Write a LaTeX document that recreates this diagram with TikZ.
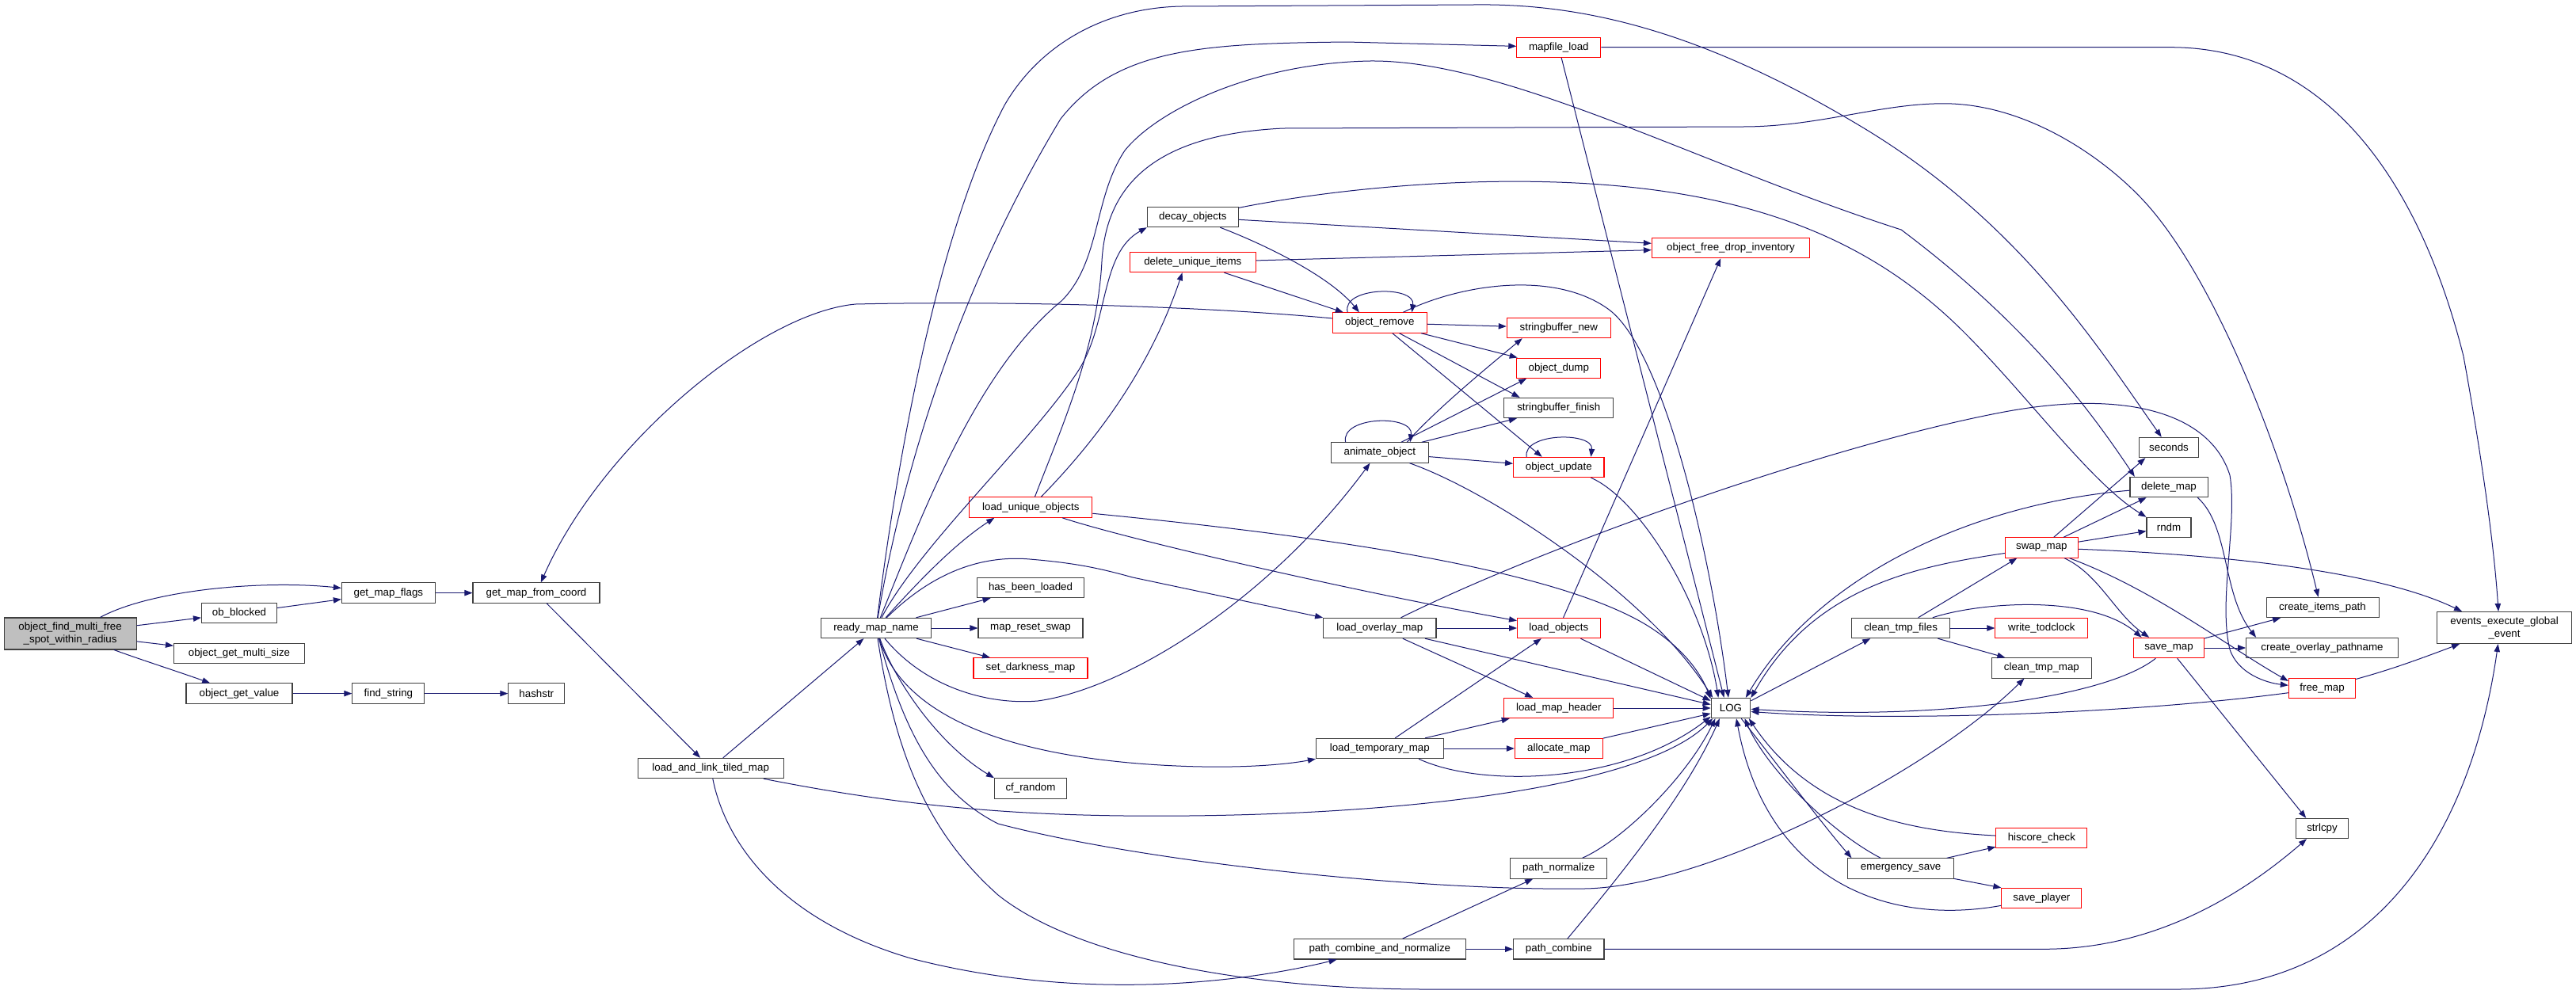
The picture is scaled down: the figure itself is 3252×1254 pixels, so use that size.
\documentclass[tikz,border=0pt]{standalone}
\usepackage{fontspec}
\setmainfont{Liberation Sans}
\usetikzlibrary{arrows.meta}
\definecolor{edgec}{HTML}{191970}
\definecolor{nodeb}{HTML}{404040}
\definecolor{rootf}{HTML}{BFBFBF}
\definecolor{nred}{HTML}{FF0000}
\tikzset{
  cedge/.style={draw=edgec, line width=0.75pt, -{Triangle[length=7.5pt,width=5.5pt]}},
  nb/.style={draw=nodeb, fill=white, line width=0.8pt, inner sep=0pt, minimum height=19pt, font=\fontsize{10pt}{12pt}\selectfont, text=black},
  nr/.style={nb, draw=nred},
  mw/.style={minimum width=#1*0.75pt}
}
\begin{document}
\begin{tikzpicture}[x=0.75pt, y=-0.75pt]
\fill[white] (0,0) rectangle (3252,1254);
\useasboundingbox (0,0) rectangle (3252,1254);
% nodes
\node[nb, fill=rootf, mw=167, minimum height=30pt, align=center] (n0) at (88.6,800) {object\_find\_multi\_free\\\_spot\_within\_radius};
\node[nb, mw=95] (obb) at (302,774) {ob\_blocked};
\node[nb, mw=165] (ogms) at (302,825) {object\_get\_multi\_size};
\node[nb, mw=134] (ogv) at (302,875.6) {object\_get\_value};
\node[nb, mw=118] (gmf) at (490.4,748.6) {get\_map\_flags};
\node[nb, mw=91] (fs) at (490.4,875.6) {find\_string};
\node[nb, mw=160] (gmfc) at (677,748.6) {get\_map\_from\_coord};
\node[nb, mw=71] (hs) at (677.3,875.6) {hashstr};
\node[nb, mw=184] (lal) at (897.2,970) {load\_and\_link\_tiled\_map};
\node[nb, mw=139] (rmn) at (1106,793) {ready\_map\_name};
\node[nr, mw=155] (luo) at (1301.3,640.6) {load\_unique\_objects};
\node[nb, mw=135] (hbl) at (1301,742) {has\_been\_loaded};
\node[nb, mw=132] (mrs) at (1301,793) {map\_reset\_swap};
\node[nr, mw=144] (sdm) at (1301,843.4) {set\_darkness\_map};
\node[nb, mw=91] (cfr) at (1301,995.4) {cf\_random};
\node[nb, mw=115] (dco) at (1505.8,274) {decay\_objects};
\node[nr, mw=158.5] (dui) at (1505.8,331) {delete\_unique\_items};
\node[nr, mw=118.5] (orm) at (1741.8,407.5) {object\_remove};
\node[nb, mw=123] (ano) at (1741.8,571.5) {animate\_object};
\node[nb, mw=142.4] (lom) at (1741.8,793) {load\_overlay\_map};
\node[nb, mw=160.7] (ltm) at (1741.8,945) {load\_temporary\_map};
\node[nb, mw=216.7] (pcn) at (1741.8,1198.3) {path\_combine\_and\_normalize};
\node[nr, mw=106] (mfl) at (1967.8,59.7) {mapfile\_load};
\node[nr, mw=131] (sbn) at (1967.8,414) {stringbuffer\_new};
\node[nr, mw=106] (odp) at (1967.8,464.7) {object\_dump};
\node[nb, mw=138] (sbf) at (1967.8,515) {stringbuffer\_finish};
\node[nr, mw=114.4] (oup) at (1967.8,590) {object\_update};
\node[nr, mw=104.5] (lob) at (1967.8,793) {load\_objects};
\node[nr, mw=138] (lmh) at (1967.8,894) {load\_map\_header};
\node[nr, mw=110.8] (alm) at (1967.8,945) {allocate\_map};
\node[nb, mw=122] (pnz) at (1967.8,1096.5) {path\_normalize};
\node[nb, mw=114.4] (pcb) at (1967.8,1198.3) {path\_combine};
\node[nr, mw=199.3] (ofd) at (2185,313) {object\_free\_drop\_inventory};
\node[nb, mw=49.8] (log) at (2185,894) {LOG};
\node[nb, mw=124] (ctf) at (2399.6,793) {clean\_tmp\_files};
\node[nb, mw=133.4] (ems) at (2399.6,1096.5) {emergency\_save};
\node[nr, mw=92] (swm) at (2577.4,691.5) {swap\_map};
\node[nr, mw=117] (wtc) at (2577.4,793) {write\_todclock};
\node[nb, mw=126.5] (ctm) at (2577.4,843.4) {clean\_tmp\_map};
\node[nr, mw=115] (hsc) at (2577.4,1058) {hiscore\_check};
\node[nr, mw=101] (spl) at (2577.4,1134) {save\_player};
\node[nb, mw=74.4] (sec) at (2738,565) {seconds};
\node[nb, mw=98] (dlm) at (2738,615) {delete\_map};
\node[nb, mw=56] (rnd) at (2738,666) {rndm};
\node[nr, mw=88.8] (svm) at (2738,818) {save\_map};
\node[nb, mw=142] (cip) at (2932,767) {create\_items\_path};
\node[nb, mw=191.7] (cop) at (2931.5,818) {create\_overlay\_pathname};
\node[nr, mw=84.3] (frm) at (2931.5,869) {free\_map};
\node[nb, mw=66] (slc) at (2931.5,1046) {strlcpy};
\node[nb, mw=170, minimum height=30pt, align=center] (eeg) at (3161.5,792.5) {events\_execute\_global\\\_event};
% root edges
\draw[cedge] (n0) .. controls (190,745) and (330,732) .. (gmf);
\draw[cedge] (n0) -- (obb);
\draw[cedge] (n0) -- (ogms);
\draw[cedge] (n0) .. controls (175,832) and (225,848) .. (ogv);
\draw[cedge] (obb) -- (gmf);
\draw[cedge] (gmf) -- (gmfc);
\draw[cedge] (ogv) -- (fs);
\draw[cedge] (fs) -- (hs);
\draw[cedge] (gmfc) -- (lal);
\draw[cedge] (orm) .. controls (1500,385) and (1250,380) .. (1080,384) .. controls (960,395) and (760,560) .. (gmfc);
% load_and_link_tiled_map
\draw[cedge] (lal) -- (rmn);
\draw[cedge] (lal) .. controls (1150,1020) and (1300,1032) .. (1500,1030) .. controls (1800,1027) and (2080,990) .. (log.210);
\draw[cedge] (lal) .. controls (915,1060) and (980,1160) .. (1150,1210) .. controls (1350,1262) and (1550,1245) .. (pcn);
% ready_map_name
\draw[cedge] (rmn) .. controls (1130,600) and (1180,300) .. (1268,133) .. controls (1310,60) and (1390,10) .. (1491,8) -- (1860,6) .. controls (2000,4) and (2150,40) .. (2350,160) .. controls (2550,280) and (2650,440) .. (sec);
\draw[cedge] (rmn) .. controls (1135,620) and (1200,380) .. (1339,150) .. controls (1410,60) and (1520,55) .. (1700,53) -- (mfl);
\draw[cedge] (rmn) .. controls (1160,660) and (1230,470) .. (1340,380) .. controls (1390,330) and (1380,250) .. (1420,190) .. controls (1460,140) and (1580,80) .. (1729,77) .. controls (1900,75) and (2150,210) .. (2400,290) .. controls (2560,410) and (2640,520) .. (dlm.163);
\draw[cedge] (rmn) .. controls (1160,690) and (1300,560) .. (1360,470) .. controls (1400,410) and (1388,320) .. (dco.south west);
\draw[cedge] (rmn) .. controls (1150,745) and (1200,690) .. (luo.196);
\draw[cedge] (rmn) .. controls (1170,730) and (1230,700) .. (1300,706) .. controls (1360,711) and (1390,718) .. (1430,729) -- (lom.north west);
\draw[cedge] (rmn) -- (hbl);
\draw[cedge] (rmn) -- (mrs);
\draw[cedge] (rmn) -- (sdm);
\draw[cedge] (rmn) .. controls (1130,860) and (1185,940) .. (cfr.north west);
\draw[cedge] (rmn) .. controls (1135,890) and (1240,950) .. (1450,965) .. controls (1550,972) and (1620,966) .. (ltm.south west);
\draw[cedge] (rmn) .. controls (1170,870) and (1250,890) .. (1310,885) .. controls (1420,870) and (1600,760) .. (ano.227);
\draw[cedge] (rmn) .. controls (1140,920) and (1180,1000) .. (1260,1040) .. controls (1450,1090) and (1800,1125) .. (2000,1122) .. controls (2150,1120) and (2430,980) .. (ctm.211);
\draw[cedge] (rmn) .. controls (1130,950) and (1170,1050) .. (1260,1130) .. controls (1360,1210) and (1580,1249) .. (1800,1249) -- (2750,1249) .. controls (3000,1249) and (3120,1050) .. (eeg.249);
% load_unique_objects
\draw[cedge] (luo) .. controls (1340,540) and (1385,440) .. (1391,330) .. controls (1396,240) and (1450,170) .. (1620,162) -- (2200,160) .. controls (2300,160) and (2380,128) .. (2464,131) .. controls (2560,135) and (2650,195) .. (2702,249) .. controls (2790,340) and (2880,560) .. (cip.112);
\draw[cedge] (luo) .. controls (1380,560) and (1450,470) .. (dui.225);
\draw[cedge] (luo) .. controls (1420,680) and (1700,745) .. (lob.170);
\draw[cedge] (luo) .. controls (1600,670) and (1950,710) .. (2080,790) .. controls (2120,815) and (2145,845) .. (log.155);
% decay / delete_unique
\draw[cedge] (dco) -- (ofd);
\draw[cedge] (dui) -- (ofd);
\draw[cedge] (dco) .. controls (1600,310) and (1680,350) .. (orm.153);
\draw[cedge] (dui) -- (orm.164);
\draw[cedge] (dco) .. controls (1700,235) and (1950,210) .. (2150,250) .. controls (2300,280) and (2400,340) .. (2480,420) .. controls (2560,500) and (2640,610) .. (rnd.north west);
% object_remove
\draw[cedge] (orm.162) .. controls (1693,362) and (1787,360) .. (orm.18);
\draw[cedge] (orm) -- (sbn);
\draw[cedge] (orm) -- (odp);
\draw[cedge] (orm) -- (sbf.165);
\draw[cedge] (orm) -- (oup.148);
\draw[cedge] (orm.24) .. controls (1840,360) and (1960,340) .. (2030,390) .. controls (2100,440) and (2160,700) .. (log.103);
% animate_object
\draw[cedge] (ano.163) .. controls (1692,525) and (1785,523) .. (ano.19);
\draw[cedge] (ano.21) .. controls (1810,520) and (1870,470) .. (sbn.196);
\draw[cedge] (ano.26) -- (odp.198);
\draw[cedge] (ano.14) -- (sbf.194);
\draw[cedge] (ano) -- (oup);
\draw[cedge] (ano) .. controls (1880,620) and (2080,750) .. (log.150);
% object_update
\draw[cedge] (oup.162) .. controls (1922,546) and (2012,545) .. (oup.18);
\draw[cedge] (oup.342) .. controls (2070,630) and (2150,760) .. (log.140);
% mapfile_load
\draw[cedge] (mfl) -- (log.123);
\draw[cedge] (mfl) -- (2740,59.7) .. controls (2950,60) and (3060,250) .. (3110,450) .. controls (3130,560) and (3148,680) .. (eeg.110);
% load_objects
\draw[cedge] (lob) -- (ofd.226);
\draw[cedge] (lob) -- (log.160);
% load_overlay_map
\draw[cedge] (lom) -- (lob);
\draw[cedge] (lom) -- (lmh.158);
\draw[cedge] (lom) -- (log.170);
\draw[cedge] (lom) .. controls (1950,690) and (2300,565) .. (2520,522) .. controls (2680,490) and (2790,520) .. (2815,600) .. controls (2825,660) and (2800,760) .. (2815,820) .. controls (2825,850) and (2860,862) .. (frm.175);
% load_temporary_map
\draw[cedge] (ltm) -- (lob.211);
\draw[cedge] (ltm) -- (lmh.192);
\draw[cedge] (ltm) -- (alm);
\draw[cedge] (ltm.345) .. controls (1870,995) and (2050,990) .. (log.203);
\draw[cedge] (alm) -- (log.195);
\draw[cedge] (lmh) -- (log);
% path functions
\draw[cedge] (pcn) -- (pnz.202);
\draw[cedge] (pcn) -- (pcb);
\draw[cedge] (pnz) .. controls (2050,1060) and (2130,980) .. (log.214);
\draw[cedge] (pcb) .. controls (2050,1100) and (2130,1000) .. (log.223);
\draw[cedge] (pcb) -- (2580,1198.3) .. controls (2720,1198.3) and (2830,1130) .. (slc.214);
% LOG outgoing
\draw[cedge] (log.20) -- (ctf.199);
\draw[cedge] (log.315) .. controls (2240,960) and (2300,1040) .. (ems.168);
% clean_tmp_files
\draw[cedge] (ctf) -- (swm.203);
\draw[cedge] (ctf) -- (wtc);
\draw[cedge] (ctf) -- (ctm.164);
\draw[cedge] (ctf) .. controls (2500,760) and (2640,750) .. (svm.159);
% emergency_save
\draw[cedge] (ems) .. controls (2310,1050) and (2230,970) .. (log.323);
\draw[cedge] (ems) -- (hsc.191);
\draw[cedge] (ems) -- (spl.north west);
\draw[cedge] (hsc) .. controls (2420,1050) and (2290,1030) .. (log.330);
\draw[cedge] (spl) .. controls (2380,1170) and (2230,1110) .. (log.298);
% swap_map
\draw[cedge] (swm) -- (sec.204);
\draw[cedge] (swm) -- (dlm.205);
\draw[cedge] (swm) -- (rnd);
\draw[cedge] (swm) .. controls (2650,725) and (2670,775) .. (svm.152);
\draw[cedge] (swm) .. controls (2720,745) and (2810,815) .. (frm.168);
\draw[cedge] (swm) .. controls (2800,700) and (3000,720) .. (eeg.159);
\draw[cedge] (swm) .. controls (2420,715) and (2290,740) .. (log.27);
% delete_map
\draw[cedge] (dlm) .. controls (2500,635) and (2300,720) .. (log.35);
\draw[cedge] (dlm.340) .. controls (2815,665) and (2805,750) .. (cop.171);
% save_map
\draw[cedge] (svm) -- (slc.147);
\draw[cedge] (svm) -- (cip.194);
\draw[cedge] (svm) -- (cop);
\draw[cedge] (svm) .. controls (2660,880) and (2450,910) .. (log.357);
% free_map
\draw[cedge] (frm) .. controls (2700,900) and (2400,912) .. (log.350);
\draw[cedge] (frm) .. controls (3020,845) and (3060,830) .. (eeg.200);
\end{tikzpicture}
\end{document}
